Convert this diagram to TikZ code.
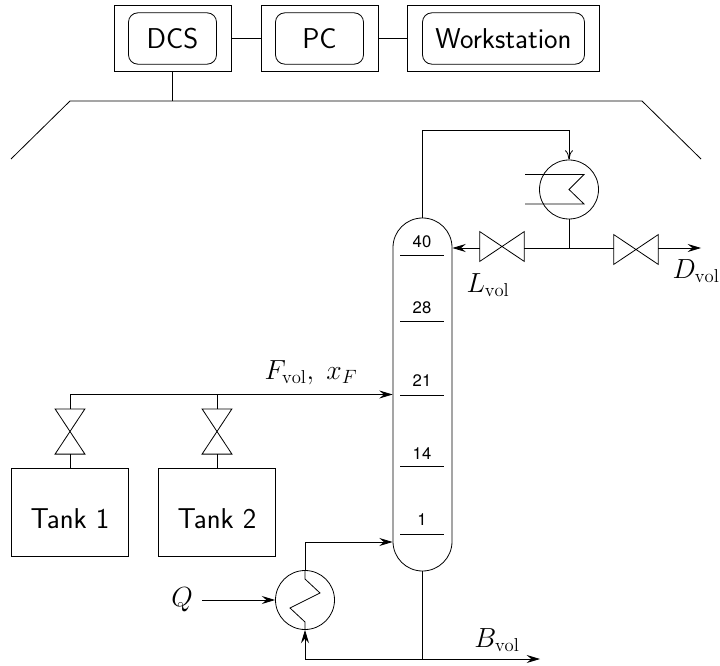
\documentclass[tikz,border=0pt]{standalone}
\usepackage{fontspec}
\newfontfamily\trayfont{TeX Gyre Heros}
\usetikzlibrary{arrows.meta}

\tikzset{
    pipe/.style={line width=0.6pt},
    flow/.style={pipe, -{Stealth[length=10pt,width=6pt,inset=3.5pt]}},
    outer/.style={draw, line width=0.6pt, minimum height=49.5pt, inner sep=0pt},
    inner/.style={draw, line width=0.6pt, rounded corners=7pt, minimum height=38.5pt, inner sep=0pt,
        font=\sffamily\fontsize{21.5}{24}\selectfont},
    tank/.style={draw, line width=0.6pt, minimum width=88pt, minimum height=66.5pt, inner sep=0pt,
        text height=24pt, font=\sffamily\fontsize{21.5}{24}\selectfont},
    exch/.style={draw, circle, line width=0.6pt, minimum size=44.25pt, inner sep=0pt},
    tray/.style={font=\trayfont\fontsize{12.5}{14}\selectfont, inner sep=0pt},
    mathlbl/.style={font=\fontsize{20}{22}\selectfont, inner sep=0pt},
    hvalve/.style={minimum width=33pt, minimum height=22pt, inner sep=0pt},
    vvalve/.style={minimum width=22pt, minimum height=33.5pt, inner sep=0pt},
}

\newcommand{\hbowtie}[1]{\draw[pipe] (#1.north west) -- (#1.south east) -- (#1.north east) -- (#1.south west) -- cycle;}
\newcommand{\vbowtie}[1]{\draw[pipe] (#1.north west) -- (#1.north east) -- (#1.south west) -- (#1.south east) -- cycle;}

\begin{document}
\begin{tikzpicture}[x=0.75pt,y=-0.75pt]
\useasboundingbox (0,0) rectangle (720,666);

% operator stations
\node[outer, minimum width=87.75pt] (dcsbox) at (172.5,38.5) {};
\node[outer, minimum width=87.75pt] (pcbox) at (319.5,38.5) {};
\node[outer, minimum width=143.5pt] (wsbox) at (503.5,38.5) {};
\node[inner, minimum width=66pt] (dcs) at (172.5,38.5) {DCS};
\node[inner, minimum width=66pt] (pc) at (319.5,38.5) {PC};
\node[inner, minimum width=121.5pt] (ws) at (503.5,38.5) {Workstation};
\draw[pipe] (dcsbox) -- (pcbox);
\draw[pipe] (pcbox) -- (wsbox);

% plant bus
\coordinate (busl) at (11,159);
\coordinate (buslt) at (70,101);
\coordinate (busrt) at (642,101);
\coordinate (busr) at (701,159);
\draw[pipe] (busl) -- (buslt) -- (busrt) -- (busr);
\draw[pipe] (dcsbox.south) -- (dcsbox.south |- buslt);

% column
\node[draw, line width=0.6pt, minimum width=44.25pt, minimum height=264.75pt, rounded corners=22.1pt, inner sep=0pt] (column) at (422.5,394.5) {};
\foreach \name/\y/\lab/\ylab in {
    t40/255/40/242,
    t28/321/28/308,
    t21/395/21/381,
    t14/466/14/454,
    t1/534/1/520
} {
    \draw[pipe] (400,\y) -- (444,\y);
    \node[tray] (\name) at (422,\ylab) {\lab};
}

% condenser
\node[exch] (cond) at (569,189.5) {};
\coordinate (condtop) at (422.5,130.5);
\draw[pipe] (column.north -| condtop) -- (condtop) -- (cond.north |- condtop)
    edge[pipe, -{To[length=7pt,width=6pt]}] (cond.north);
\draw[pipe] (525,174.5) -- (584,174.5) -- (569,189.5) -- (584,204) -- (525,204);

% reflux and distillate
\coordinate (top) at (569,248);
\node[hvalve] (vreflux) at (502,246.5) {};
\node[hvalve] (vdist) at (636,249.5) {};
\coordinate (distend) at (701,248);
\hbowtie{vreflux}
\hbowtie{vdist}
\draw[pipe] (cond.south) -- (top);
\draw[pipe] (top) -- (vreflux.east |- top);
\draw[pipe] (top) -- (vdist.west |- top);
\draw[flow] (vreflux.west |- top) -- (column.east |- top);
\draw[flow] (vdist.east |- top) -- (distend);
\node[mathlbl] (lvol) at (488,285) {$L_{\mathrm{vol}}$};
\node[mathlbl] (dvol) at (696,271) {$D_{\mathrm{vol}}$};

% feed
\node[tank] (tank1) at (70,512.5) {Tank 1};
\node[tank] (tank2) at (217,512.5) {Tank 2};
\node[vvalve] (v1) at (70,431.5) {};
\node[vvalve] (v2) at (217,431.5) {};
\vbowtie{v1}
\vbowtie{v2}
\coordinate (feedl) at (70,394.5);
\coordinate (feedm) at (217,394.5);
\draw[pipe] (tank1) -- (v1);
\draw[pipe] (tank2) -- (v2);
\draw[pipe] (v1) -- (feedl);
\draw[pipe] (v2) -- (feedm);
\draw[flow] (feedl) -- (column.west |- feedl);
\node[mathlbl] (fvol) at (311,373) {$F_{\mathrm{vol}},\;x_F$};

% reboiler
\node[exch] (reb) at (305,600) {};
\coordinate (rebup) at (305,542);
\coordinate (bott) at (422.5,659);
\coordinate (botl) at (305,659);
\coordinate (botend) at (540,659);
\coordinate (qstart) at (202,600);
\draw[flow] (reb.north) -- (rebup) -- (column.west |- rebup);
\draw[pipe] (reb.north) -- (305,579) -- (320,593) -- (290,608) -- (305,622) -- (reb.south);
\draw[flow] (qstart) -- (reb.west);
\draw[pipe] (column.south -| bott) -- (bott);
\draw[flow] (botl) -- (botend);
\draw[flow] (botl) -- (reb.south);
\node[mathlbl] (q) at (182,600) {$Q$};
\node[mathlbl] (bvol) at (497,640) {$B_{\mathrm{vol}}$};

\end{tikzpicture}
\end{document}
